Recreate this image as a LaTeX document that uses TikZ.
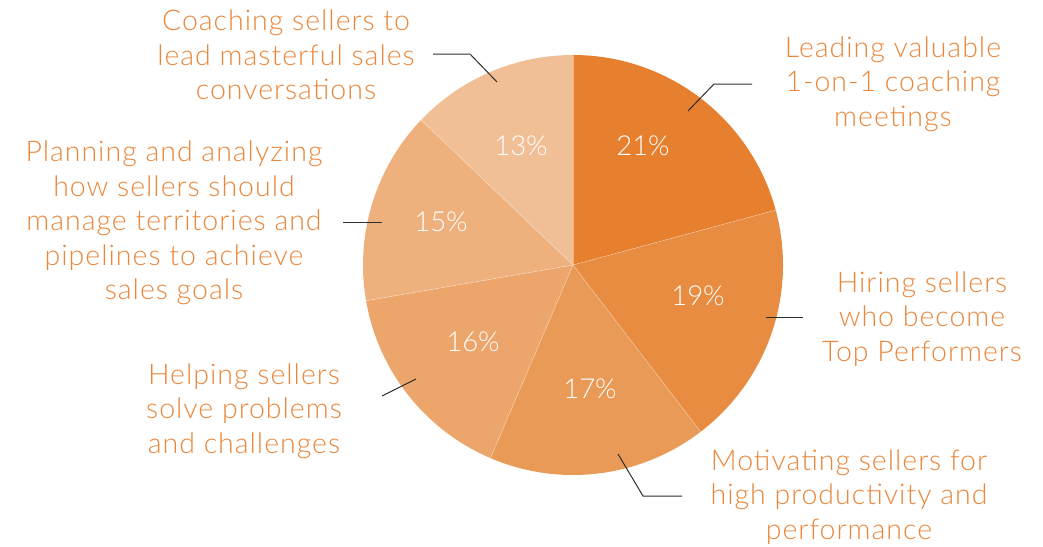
\documentclass[tikz,border=0pt]{standalone}
\usepackage{fontspec}
\setmainfont{Lato}[UprightFont=* Light]
\newfontfamily\lblfont{Lato}[UprightFont=* Light, LetterSpace=3.5]
\definecolor{cA}{HTML}{E67F2E}
\definecolor{cB}{HTML}{E88C41}
\definecolor{cC}{HTML}{EA9A57}
\definecolor{cD}{HTML}{ECA66C}
\definecolor{cE}{HTML}{EEB17D}
\definecolor{cF}{HTML}{F1BF96}
\definecolor{txt}{HTML}{E9873C}
\definecolor{lead}{HTML}{2E2E2E}
\tikzset{
  lbl/.style={text=txt, align=center, font=\lblfont\fontsize{28.5}{34.5}\selectfont, inner sep=0pt},
  pct/.style={text=white, font=\fontsize{27.5}{30}\selectfont, inner sep=0pt},
  leader/.style={draw=lead, line width=1pt},
  sep/.style={draw=white, line width=0.6pt, opacity=0.35}
}
\begin{document}
\begin{tikzpicture}[x=1pt,y=-1pt]
\useasboundingbox (0,0) rectangle (1043,546);
\coordinate (C) at (573,265);
\def\R{210}
% slices (angles in flipped system)
\fill[cA] (C) -- ++(-90:\R) arc[start angle=-90, end angle=-15.15, radius=\R] -- cycle;
\fill[cB] (C) -- ++(-15.15:\R) arc[start angle=-15.15, end angle=52.57, radius=\R] -- cycle;
\fill[cC] (C) -- ++(52.57:\R) arc[start angle=52.57, end angle=113.16, radius=\R] -- cycle;
\fill[cD] (C) -- ++(113.16:\R) arc[start angle=113.16, end angle=170.19, radius=\R] -- cycle;
\fill[cE] (C) -- ++(170.19:\R) arc[start angle=170.19, end angle=223.66, radius=\R] -- cycle;
\fill[cF] (C) -- ++(223.66:\R) arc[start angle=223.66, end angle=270, radius=\R] -- cycle;
\foreach \a in {-90,-15.15,52.57,113.16,170.19,223.66}
  \draw[sep] (C) -- ++(\a:\R);
% percentages
\node[pct] (p21) at (643,146) {21\%};
\node[pct] (p19) at (698,296) {19\%};
\node[pct] (p17) at (590,389) {17\%};
\node[pct] (p16) at (473,342) {16\%};
\node[pct] (p15) at (441,222) {15\%};
\node[pct] (p13) at (521,146) {13\%};
% labels
\node[lbl] (tCoach) at (286,55) {Coaching sellers to\\lead masterful sales\\conversations};
\node[lbl] (tLead) at (893,84) {Leading valuable\\1-on-1 coaching\\meetings};
\node[lbl] (tPlan) at (174,223) {Planning and analyzing\\how sellers should\\manage territories and\\pipelines to achieve\\sales goals};
\node[lbl] (tHire) at (922,319) {Hiring sellers\\who become\\Top Performers};
\node[lbl] (tHelp) at (244,411) {Helping sellers\\solve problems\\and challenges};
\node[lbl] (tMot) at (849,497) {Motivating sellers for\\high productivity and\\performance};
% leader lines
\coordinate (lc1) at (433,54); \coordinate (lc2) at (470,54); \coordinate (lc3) at (497,82);
\draw[leader] (lc1) -- (lc2) -- (lc3);
\coordinate (ll1) at (688,111); \coordinate (ll2) at (714,84); \coordinate (ll3) at (752,84);
\draw[leader] (ll1) -- (ll2) -- (ll3);
\coordinate (lp1) at (343,222); \coordinate (lp2) at (382,222);
\draw[leader] (lp1) -- (lp2);
\coordinate (lh1) at (766,317); \coordinate (lh2) at (803,317);
\draw[leader] (lh1) -- (lh2);
\coordinate (le1) at (382,396); \coordinate (le2) at (416,379);
\draw[leader] (le1) -- (le2);
\coordinate (lm1) at (618,454); \coordinate (lm2) at (643,496); \coordinate (lm3) at (682,496);
\draw[leader] (lm1) -- (lm2) -- (lm3);
\end{tikzpicture}
\end{document}
